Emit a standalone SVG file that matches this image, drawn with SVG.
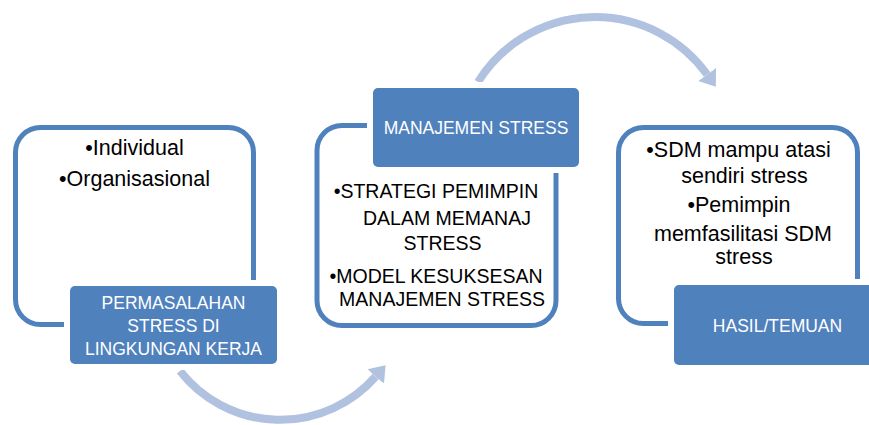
<svg xmlns="http://www.w3.org/2000/svg" width="869" height="425" viewBox="0 0 869 425">
  <defs>
    <marker id="ah" markerUnits="userSpaceOnUse" viewBox="0 -12 16 24" refX="0" refY="0" markerWidth="16" markerHeight="24" orient="auto">
      <path d="M0,-11 L15,0 L0,11 z" fill="#B0C2DF"/>
    </marker>
    <style>
      .outline { fill: #ffffff; stroke: #4F81BD; stroke-width: 5; }
      .label { fill: #4F81BD; stroke: #ffffff; stroke-width: 12; paint-order: stroke; }
      .conn { fill: none; stroke: #B0C2DF; stroke-width: 8; marker-end: url(#ah); }
      .lt { font-family: "Liberation Sans", Arial, sans-serif; font-size: 17.5px; fill: #ffffff; text-anchor: middle; }
      .bt { font-family: "Liberation Sans", Arial, sans-serif; font-size: 21.5px; fill: #000000; text-anchor: middle; }
      .bt2 { font-family: "Liberation Sans", Arial, sans-serif; font-size: 19.5px; fill: #000000; text-anchor: middle; }
    </style>
  </defs>
  <rect width="869" height="425" fill="#ffffff"/>
  <g id="connectors">
    <path class="conn" d="M180,371 A127,127 0 0 0 375.7,376.5"/>
    <path class="conn" d="M478,82 A138,138 0 0 1 707.1,74.5"/>
  </g>
  <g id="node1">
    <rect class="outline" x="15.5" y="127.5" width="238" height="197" rx="25"/>
    <text class="bt" x="134.5" y="155">•Individual</text>
    <text class="bt" x="134.5" y="186">•Organisasional</text>
    <rect class="label" x="70" y="286" width="207" height="78" rx="5"/>
    <text class="lt" x="173.5" y="309">PERMASALAHAN</text>
    <text class="lt" x="173.5" y="332">STRESS DI</text>
    <text class="lt" x="173.5" y="355">LINGKUNGAN KERJA</text>
  </g>
  <g id="node2">
    <rect class="outline" x="317" y="125.5" width="239" height="200" rx="25"/>
    <text class="bt2" x="436" y="198">•STRATEGI PEMIMPIN</text>
    <text class="bt2" x="447" y="225">DALAM MEMANAJ</text>
    <text class="bt2" x="442.5" y="250">STRESS</text>
    <text class="bt2" x="436" y="283">•MODEL KESUKSESAN</text>
    <text class="bt2" x="442" y="306">MANAJEMEN STRESS</text>
    <rect class="label" x="373" y="88" width="206" height="79" rx="5"/>
    <text class="lt" x="476" y="134">MANAJEMEN STRESS</text>
  </g>
  <g id="node3">
    <rect class="outline" x="618.5" y="127.5" width="239" height="196" rx="25"/>
    <text class="bt" x="738.5" y="157">•SDM mampu atasi</text>
    <text class="bt" x="744.5" y="183">sendiri stress</text>
    <text class="bt" x="739" y="212">•Pemimpin</text>
    <text class="bt" x="743" y="241">memfasilitasi SDM</text>
    <text class="bt" x="744" y="264">stress</text>
    <rect class="label" x="674" y="285" width="207" height="80" rx="5"/>
    <text class="lt" x="777.5" y="332">HASIL/TEMUAN</text>
  </g>
</svg>
